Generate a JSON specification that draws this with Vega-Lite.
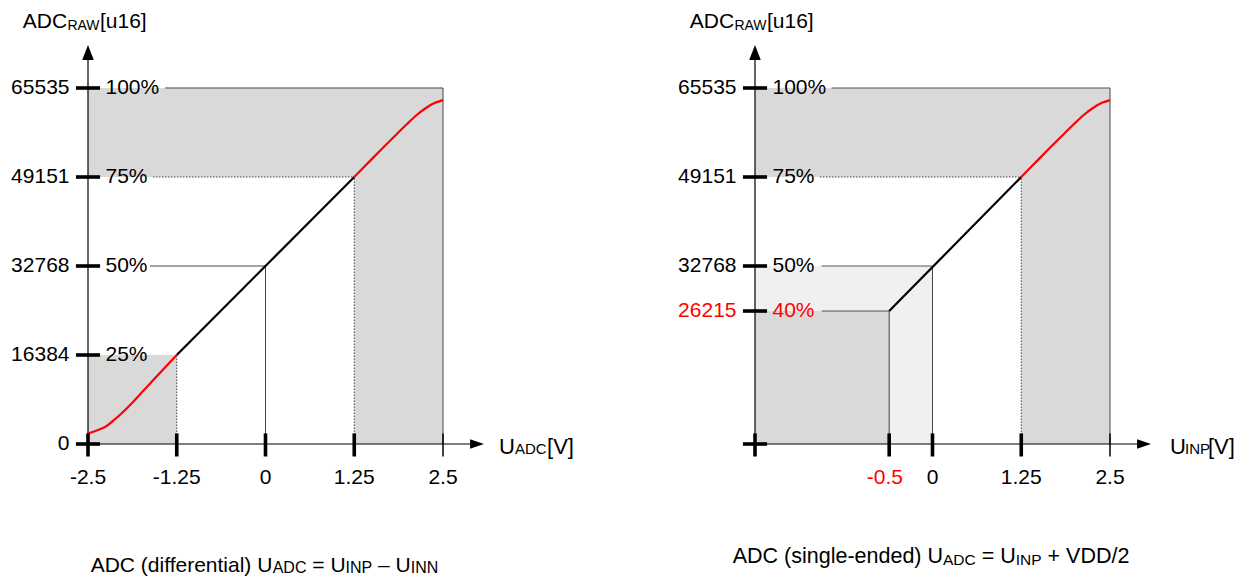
{
  "$schema": "https://vega.github.io/schema/vega-lite/v6.json",
  "padding": 0,
  "background": "white",
  "config": {"view": {"stroke": null}, "font": "Liberation Sans"},
  "data": {"values": [
    {"panel":"L","kind":"region","shade":"dark","x":-2.5,"x2":2.5,"y":49151,"y2":65535},
    {"panel":"L","kind":"region","shade":"dark","x":1.25,"x2":2.5,"y":0,"y2":49151},
    {"panel":"L","kind":"region","shade":"dark","x":-2.5,"x2":-1.25,"y":0,"y2":16384},
    {"panel":"R","kind":"region","shade":"light","x":-2.5,"x2":0,"y":0,"y2":32768},
    {"panel":"R","kind":"region","shade":"dark","x":-2.5,"x2":-0.61,"y":0,"y2":24480},
    {"panel":"R","kind":"region","shade":"dark","x":-2.5,"x2":2.5,"y":49151,"y2":65535},
    {"panel":"R","kind":"region","shade":"dark","x":1.25,"x2":2.5,"y":0,"y2":49151},

    {"panel":"L","kind":"guide","style":"solid","x":-1.415,"x2":2.5,"y":65535,"y2":65535},
    {"panel":"L","kind":"guide","style":"solid","x":2.5,"x2":2.5,"y":0,"y2":65535},
    {"panel":"L","kind":"guide","style":"dotted","x":-1.585,"x2":1.25,"y":49151,"y2":49151},
    {"panel":"L","kind":"guide","style":"dotted","x":1.25,"x2":1.25,"y":0,"y2":49151},
    {"panel":"L","kind":"guide","style":"solid","x":-1.627,"x2":0,"y":32768,"y2":32768},
    {"panel":"L","kind":"guide","style":"solid","x":0,"x2":0,"y":0,"y2":32768},
    {"panel":"L","kind":"guide","style":"dotted","x":-1.25,"x2":-1.25,"y":0,"y2":16384},
    {"panel":"R","kind":"guide","style":"solid","x":-1.42,"x2":2.5,"y":65535,"y2":65535},
    {"panel":"R","kind":"guide","style":"solid","x":2.5,"x2":2.5,"y":0,"y2":65535},
    {"panel":"R","kind":"guide","style":"dotted","x":-1.585,"x2":1.25,"y":49151,"y2":49151},
    {"panel":"R","kind":"guide","style":"dotted","x":1.25,"x2":1.25,"y":0,"y2":49151},
    {"panel":"R","kind":"guide","style":"solid","x":-1.56,"x2":0,"y":32768,"y2":32768},
    {"panel":"R","kind":"guide","style":"solid","x":0,"x2":0,"y":0,"y2":32768},
    {"panel":"R","kind":"guide","style":"solid","x":-1.56,"x2":-0.61,"y":24480,"y2":24480},
    {"panel":"R","kind":"guide","style":"solid","x":-0.61,"x2":-0.61,"y":0,"y2":24480},

    {"panel":"L","kind":"transfer","x":-1.25,"x2":1.25,"y":16384,"y2":49151},
    {"panel":"R","kind":"transfer","x":-0.61,"x2":1.25,"y":24480,"y2":49151},

    {"panel":"L","kind":"curve","seg":"lo","x":-2.5,"y":1970},
    {"panel":"L","kind":"curve","seg":"lo","x":-2.425,"y":2264},
    {"panel":"L","kind":"curve","seg":"lo","x":-2.331,"y":2706},
    {"panel":"L","kind":"curve","seg":"lo","x":-2.237,"y":3314},
    {"panel":"L","kind":"curve","seg":"lo","x":-2.144,"y":4289},
    {"panel":"L","kind":"curve","seg":"lo","x":-2.003,"y":5946},
    {"panel":"L","kind":"curve","seg":"lo","x":-1.862,"y":7787},
    {"panel":"L","kind":"curve","seg":"lo","x":-1.721,"y":9812},
    {"panel":"L","kind":"curve","seg":"lo","x":-1.58,"y":11782},
    {"panel":"L","kind":"curve","seg":"lo","x":-1.25,"y":16384},
    {"panel":"L","kind":"curve","seg":"hi","x":1.25,"y":49151},
    {"panel":"L","kind":"curve","seg":"hi","x":1.425,"y":51480},
    {"panel":"L","kind":"curve","seg":"hi","x":1.613,"y":53990},
    {"panel":"L","kind":"curve","seg":"hi","x":1.8,"y":56420},
    {"panel":"L","kind":"curve","seg":"hi","x":1.989,"y":58850},
    {"panel":"L","kind":"curve","seg":"hi","x":2.13,"y":60560},
    {"panel":"L","kind":"curve","seg":"hi","x":2.27,"y":61950},
    {"panel":"L","kind":"curve","seg":"hi","x":2.387,"y":62800},
    {"panel":"L","kind":"curve","seg":"hi","x":2.5,"y":63300},
    {"panel":"R","kind":"curve","seg":"hi","x":1.25,"y":49151},
    {"panel":"R","kind":"curve","seg":"hi","x":1.425,"y":51480},
    {"panel":"R","kind":"curve","seg":"hi","x":1.613,"y":53990},
    {"panel":"R","kind":"curve","seg":"hi","x":1.8,"y":56420},
    {"panel":"R","kind":"curve","seg":"hi","x":1.989,"y":58850},
    {"panel":"R","kind":"curve","seg":"hi","x":2.13,"y":60560},
    {"panel":"R","kind":"curve","seg":"hi","x":2.27,"y":61950},
    {"panel":"R","kind":"curve","seg":"hi","x":2.387,"y":62800},
    {"panel":"R","kind":"curve","seg":"hi","x":2.5,"y":63300},

    {"panel":"L","kind":"axis","x":-2.5,"x2":2.88,"y":0,"y2":0},
    {"panel":"L","kind":"axis","x":-2.5,"x2":-2.5,"y":0,"y2":70690},
    {"panel":"R","kind":"axis","x":-2.5,"x2":2.88,"y":0,"y2":0},
    {"panel":"R","kind":"axis","x":-2.5,"x2":-2.5,"y":0,"y2":70690},

    {"panel":"L","kind":"tick","weight":"major","x":-2.5,"x2":-2.5,"y":-2300,"y2":1950},
    {"panel":"L","kind":"tick","weight":"major","x":-1.25,"x2":-1.25,"y":-2300,"y2":1950},
    {"panel":"L","kind":"tick","weight":"major","x":0,"x2":0,"y":-2300,"y2":1950},
    {"panel":"L","kind":"tick","weight":"major","x":1.25,"x2":1.25,"y":-2300,"y2":1950},
    {"panel":"L","kind":"tick","weight":"minor","x":2.5,"x2":2.5,"y":-2300,"y2":1950},
    {"panel":"L","kind":"tick","weight":"major","x":-2.67,"x2":-2.33,"y":0,"y2":0},
    {"panel":"L","kind":"tick","weight":"major","x":-2.67,"x2":-2.33,"y":16384,"y2":16384},
    {"panel":"L","kind":"tick","weight":"major","x":-2.67,"x2":-2.33,"y":32768,"y2":32768},
    {"panel":"L","kind":"tick","weight":"major","x":-2.67,"x2":-2.33,"y":49151,"y2":49151},
    {"panel":"L","kind":"tick","weight":"major","x":-2.67,"x2":-2.33,"y":65535,"y2":65535},
    {"panel":"R","kind":"tick","weight":"major","x":-2.5,"x2":-2.5,"y":-2300,"y2":1950},
    {"panel":"R","kind":"tick","weight":"major","x":-0.61,"x2":-0.61,"y":-2300,"y2":1950},
    {"panel":"R","kind":"tick","weight":"major","x":0,"x2":0,"y":-2300,"y2":1950},
    {"panel":"R","kind":"tick","weight":"major","x":1.25,"x2":1.25,"y":-2300,"y2":1950},
    {"panel":"R","kind":"tick","weight":"minor","x":2.5,"x2":2.5,"y":-2300,"y2":1950},
    {"panel":"R","kind":"tick","weight":"major","x":-2.67,"x2":-2.33,"y":0,"y2":0},
    {"panel":"R","kind":"tick","weight":"major","x":-2.67,"x2":-2.33,"y":24480,"y2":24480},
    {"panel":"R","kind":"tick","weight":"major","x":-2.67,"x2":-2.33,"y":32768,"y2":32768},
    {"panel":"R","kind":"tick","weight":"major","x":-2.67,"x2":-2.33,"y":49151,"y2":49151},
    {"panel":"R","kind":"tick","weight":"major","x":-2.67,"x2":-2.33,"y":65535,"y2":65535},

    {"panel":"L","kind":"arrow","dir":"up","x":-2.5,"y":72070},
    {"panel":"L","kind":"arrow","dir":"right","x":2.979,"y":0},
    {"panel":"R","kind":"arrow","dir":"up","x":-2.5,"y":72070},
    {"panel":"R","kind":"arrow","dir":"right","x":2.979,"y":0},

    {"panel":"L","kind":"ylab","x":-2.7606,"y":65535,"text":"65535"},
    {"panel":"L","kind":"ylab","x":-2.7606,"y":49151,"text":"49151"},
    {"panel":"L","kind":"ylab","x":-2.7606,"y":32768,"text":"32768"},
    {"panel":"L","kind":"ylab","x":-2.7606,"y":16384,"text":"16384"},
    {"panel":"L","kind":"ylab","x":-2.7606,"y":0,"text":"0"},
    {"panel":"R","kind":"ylab","x":-2.7606,"y":65535,"text":"65535"},
    {"panel":"R","kind":"ylab","x":-2.7606,"y":49151,"text":"49151"},
    {"panel":"R","kind":"ylab","x":-2.7606,"y":32768,"text":"32768"},
    {"panel":"R","kind":"ylab","x":-2.7606,"y":24480,"text":"26215","tone":"accent"},

    {"panel":"L","kind":"pct","x":-2.2535,"y":65535,"text":"100%"},
    {"panel":"L","kind":"pct","x":-2.2535,"y":49151,"text":"75%"},
    {"panel":"L","kind":"pct","x":-2.2535,"y":32768,"text":"50%"},
    {"panel":"L","kind":"pct","x":-2.2535,"y":16384,"text":"25%"},
    {"panel":"R","kind":"pct","x":-2.2535,"y":65535,"text":"100%"},
    {"panel":"R","kind":"pct","x":-2.2535,"y":49151,"text":"75%"},
    {"panel":"R","kind":"pct","x":-2.2535,"y":32768,"text":"50%"},
    {"panel":"R","kind":"pct","x":-2.2535,"y":24480,"text":"40%","tone":"accent"},

    {"panel":"L","kind":"xlab","x":-2.5,"y":-7364,"text":"-2.5"},
    {"panel":"L","kind":"xlab","x":-1.25,"y":-7364,"text":"-1.25"},
    {"panel":"L","kind":"xlab","x":0,"y":-7364,"text":"0"},
    {"panel":"L","kind":"xlab","x":1.25,"y":-7364,"text":"1.25"},
    {"panel":"L","kind":"xlab","x":2.5,"y":-7364,"text":"2.5"},
    {"panel":"R","kind":"xlab","x":-0.67,"y":-7364,"text":"-0.5","tone":"accent"},
    {"panel":"R","kind":"xlab","x":0,"y":-7364,"text":"0"},
    {"panel":"R","kind":"xlab","x":1.25,"y":-7364,"text":"1.25"},
    {"panel":"R","kind":"xlab","x":2.5,"y":-7364,"text":"2.5"},

    {"panel":"L","kind":"title","x":-3.418,"y":76581,"text":"ADC"},
    {"panel":"L","kind":"title","x":-2.331,"y":76581,"text":"[u16]"},
    {"panel":"L","kind":"titlesub","x":-2.79,"y":76213,"text":"RAW"},
    {"panel":"R","kind":"title","x":-3.418,"y":76581,"text":"ADC"},
    {"panel":"R","kind":"title","x":-2.331,"y":76581,"text":"[u16]"},
    {"panel":"R","kind":"titlesub","x":-2.79,"y":76213,"text":"RAW"},

    {"panel":"L","kind":"axtitle","x":3.2887,"y":-1841,"text":"U"},
    {"panel":"L","kind":"axtitle","x":3.965,"y":-1841,"text":"[V]"},
    {"panel":"L","kind":"axsub","x":3.514,"y":-1841,"text":"ADC"},
    {"panel":"R","kind":"axtitle","x":3.345,"y":-1841,"text":"U"},
    {"panel":"R","kind":"axtitle","x":3.88,"y":-1841,"text":"[V]"},
    {"panel":"R","kind":"axsub","x":3.556,"y":-1841,"text":"INP"},

    {"panel":"L","kind":"cap","x":-2.462,"y":-23508,"text":"ADC (differential) U"},
    {"panel":"L","kind":"cap","x":0.659,"y":-23508,"text":"= U"},
    {"panel":"L","kind":"cap","x":1.586,"y":-23508,"text":"– U"},
    {"panel":"L","kind":"capsub","x":0.1014,"y":-23750,"text":"ADC"},
    {"panel":"L","kind":"capsub","x":1.128,"y":-23750,"text":"INP"},
    {"panel":"L","kind":"capsub","x":2.046,"y":-23750,"text":"INN"},
    {"panel":"R","kind":"cap","x":-2.814,"y":-21962,"text":"ADC (single-ended) U"},
    {"panel":"R","kind":"cap","x":0.693,"y":-21962,"text":"= U"},
    {"panel":"R","kind":"cap","x":1.621,"y":-21962,"text":"+ VDD/2"},
    {"panel":"R","kind":"capsub","x":0.148,"y":-22200,"text":"ADC"},
    {"panel":"R","kind":"capsub","x":1.173,"y":-22200,"text":"INP"}
  ]},
  "facet": {"column": {"field": "panel", "type": "nominal", "sort": ["L", "R"], "header": {"title": null, "labels": false, "labelPadding": 0, "titlePadding": 0}}},
  "spacing": 90,
  "spec": {
    "width": 577,
    "height": 581,
    "layer": [
      {
        "transform": [{"filter": "datum.kind === 'region' && datum.shade === 'light'"}],
        "mark": {"type": "rect", "color": "#f0f0f0"},
        "encoding": {
          "x": {"field": "x", "type": "quantitative", "scale": {"domain": [-3.73944, 4.38732], "nice": false, "zero": false}, "axis": null},
          "x2": {"field": "x2"},
          "y": {"field": "y", "type": "quantitative", "scale": {"domain": [-25219.9, 81734.6], "nice": false, "zero": false}, "axis": null},
          "y2": {"field": "y2"}
        }
      },
      {
        "transform": [{"filter": "datum.kind === 'region' && datum.shade === 'dark'"}],
        "mark": {"type": "rect", "color": "#d9d9d9"},
        "encoding": {
          "x": {"field": "x", "type": "quantitative", "scale": {"domain": [-3.73944, 4.38732], "nice": false, "zero": false}, "axis": null},
          "x2": {"field": "x2"},
          "y": {"field": "y", "type": "quantitative", "scale": {"domain": [-25219.9, 81734.6], "nice": false, "zero": false}, "axis": null},
          "y2": {"field": "y2"}
        }
      },
      {
        "transform": [{"filter": "datum.kind === 'guide'"}],
        "mark": {"type": "rule", "color": "#444444", "strokeWidth": 1},
        "encoding": {
          "x": {"field": "x", "type": "quantitative", "scale": {"domain": [-3.73944, 4.38732], "nice": false, "zero": false}, "axis": null},
          "x2": {"field": "x2"},
          "y": {"field": "y", "type": "quantitative", "scale": {"domain": [-25219.9, 81734.6], "nice": false, "zero": false}, "axis": null},
          "y2": {"field": "y2"},
          "strokeDash": {"field": "style", "type": "nominal", "scale": {"domain": ["solid", "dotted"], "range": [[1, 0], [1.5, 1.5]]}, "legend": null}
        }
      },
      {
        "transform": [{"filter": "datum.kind === 'axis'"}],
        "mark": {"type": "rule", "color": "#000000", "strokeWidth": 1.2},
        "encoding": {
          "x": {"field": "x", "type": "quantitative", "scale": {"domain": [-3.73944, 4.38732], "nice": false, "zero": false}, "axis": null},
          "x2": {"field": "x2"},
          "y": {"field": "y", "type": "quantitative", "scale": {"domain": [-25219.9, 81734.6], "nice": false, "zero": false}, "axis": null},
          "y2": {"field": "y2"}
        }
      },
      {
        "transform": [{"filter": "datum.kind === 'transfer'"}],
        "mark": {"type": "rule", "color": "#000000", "strokeWidth": 2.2},
        "encoding": {
          "x": {"field": "x", "type": "quantitative", "scale": {"domain": [-3.73944, 4.38732], "nice": false, "zero": false}, "axis": null},
          "x2": {"field": "x2"},
          "y": {"field": "y", "type": "quantitative", "scale": {"domain": [-25219.9, 81734.6], "nice": false, "zero": false}, "axis": null},
          "y2": {"field": "y2"}
        }
      },
      {
        "transform": [{"filter": "datum.kind === 'curve'"}],
        "mark": {"type": "line", "color": "#ff0000", "strokeWidth": 2.2, "interpolate": "monotone"},
        "encoding": {
          "x": {"field": "x", "type": "quantitative", "scale": {"domain": [-3.73944, 4.38732], "nice": false, "zero": false}, "axis": null},
          "y": {"field": "y", "type": "quantitative", "scale": {"domain": [-25219.9, 81734.6], "nice": false, "zero": false}, "axis": null},
          "detail": {"field": "seg", "type": "nominal"}
        }
      },
      {
        "transform": [{"filter": "datum.kind === 'tick'"}],
        "mark": {"type": "rule", "color": "#000000"},
        "encoding": {
          "x": {"field": "x", "type": "quantitative", "scale": {"domain": [-3.73944, 4.38732], "nice": false, "zero": false}, "axis": null},
          "x2": {"field": "x2"},
          "y": {"field": "y", "type": "quantitative", "scale": {"domain": [-25219.9, 81734.6], "nice": false, "zero": false}, "axis": null},
          "y2": {"field": "y2"},
          "strokeWidth": {"field": "weight", "type": "nominal", "scale": {"domain": ["major", "minor"], "range": [3.6, 1.5]}, "legend": null}
        }
      },
      {
        "transform": [{"filter": "datum.kind === 'arrow'"}],
        "mark": {"type": "point", "filled": true, "color": "#000000", "opacity": 1, "size": 225, "strokeWidth": 0},
        "encoding": {
          "x": {"field": "x", "type": "quantitative", "scale": {"domain": [-3.73944, 4.38732], "nice": false, "zero": false}, "axis": null},
          "y": {"field": "y", "type": "quantitative", "scale": {"domain": [-25219.9, 81734.6], "nice": false, "zero": false}, "axis": null},
          "shape": {"field": "dir", "type": "nominal", "scale": {"domain": ["up", "right"], "range": ["M0,-1L0.77,1L-0.77,1Z", "M0.93,0L-0.93,0.63L-0.93,-0.63Z"]}, "legend": null}
        }
      },
      {
        "transform": [{"filter": "datum.kind === 'ylab'"}],
        "mark": {"type": "text", "align": "right", "baseline": "middle", "fontSize": 21},
        "encoding": {
          "x": {"field": "x", "type": "quantitative", "scale": {"domain": [-3.73944, 4.38732], "nice": false, "zero": false}, "axis": null},
          "y": {"field": "y", "type": "quantitative", "scale": {"domain": [-25219.9, 81734.6], "nice": false, "zero": false}, "axis": null},
          "text": {"field": "text"},
          "color": {"condition": {"test": "datum.tone === 'accent'", "value": "#ff0000"}, "value": "#000000"}
        }
      },
      {
        "transform": [{"filter": "datum.kind === 'pct'"}],
        "mark": {"type": "text", "align": "left", "baseline": "middle", "fontSize": 21},
        "encoding": {
          "x": {"field": "x", "type": "quantitative", "scale": {"domain": [-3.73944, 4.38732], "nice": false, "zero": false}, "axis": null},
          "y": {"field": "y", "type": "quantitative", "scale": {"domain": [-25219.9, 81734.6], "nice": false, "zero": false}, "axis": null},
          "text": {"field": "text"},
          "color": {"condition": {"test": "datum.tone === 'accent'", "value": "#ff0000"}, "value": "#000000"}
        }
      },
      {
        "transform": [{"filter": "datum.kind === 'xlab'"}],
        "mark": {"type": "text", "align": "center", "baseline": "alphabetic", "fontSize": 21},
        "encoding": {
          "x": {"field": "x", "type": "quantitative", "scale": {"domain": [-3.73944, 4.38732], "nice": false, "zero": false}, "axis": null},
          "y": {"field": "y", "type": "quantitative", "scale": {"domain": [-25219.9, 81734.6], "nice": false, "zero": false}, "axis": null},
          "text": {"field": "text"},
          "color": {"condition": {"test": "datum.tone === 'accent'", "value": "#ff0000"}, "value": "#000000"}
        }
      },
      {
        "transform": [{"filter": "datum.kind === 'title'"}],
        "mark": {"type": "text", "align": "left", "baseline": "alphabetic", "fontSize": 21, "color": "#000000"},
        "encoding": {
          "x": {"field": "x", "type": "quantitative", "scale": {"domain": [-3.73944, 4.38732], "nice": false, "zero": false}, "axis": null},
          "y": {"field": "y", "type": "quantitative", "scale": {"domain": [-25219.9, 81734.6], "nice": false, "zero": false}, "axis": null},
          "text": {"field": "text"}
        }
      },
      {
        "transform": [{"filter": "datum.kind === 'titlesub'"}],
        "mark": {"type": "text", "align": "left", "baseline": "alphabetic", "fontSize": 14, "color": "#000000"},
        "encoding": {
          "x": {"field": "x", "type": "quantitative", "scale": {"domain": [-3.73944, 4.38732], "nice": false, "zero": false}, "axis": null},
          "y": {"field": "y", "type": "quantitative", "scale": {"domain": [-25219.9, 81734.6], "nice": false, "zero": false}, "axis": null},
          "text": {"field": "text"}
        }
      },
      {
        "transform": [{"filter": "datum.kind === 'axtitle'"}],
        "mark": {"type": "text", "align": "left", "baseline": "alphabetic", "fontSize": 22, "color": "#000000"},
        "encoding": {
          "x": {"field": "x", "type": "quantitative", "scale": {"domain": [-3.73944, 4.38732], "nice": false, "zero": false}, "axis": null},
          "y": {"field": "y", "type": "quantitative", "scale": {"domain": [-25219.9, 81734.6], "nice": false, "zero": false}, "axis": null},
          "text": {"field": "text"}
        }
      },
      {
        "transform": [{"filter": "datum.kind === 'axsub'"}],
        "mark": {"type": "text", "align": "left", "baseline": "alphabetic", "fontSize": 15, "color": "#000000"},
        "encoding": {
          "x": {"field": "x", "type": "quantitative", "scale": {"domain": [-3.73944, 4.38732], "nice": false, "zero": false}, "axis": null},
          "y": {"field": "y", "type": "quantitative", "scale": {"domain": [-25219.9, 81734.6], "nice": false, "zero": false}, "axis": null},
          "text": {"field": "text"}
        }
      },
      {
        "transform": [{"filter": "datum.kind === 'cap' && datum.panel === 'L'"}],
        "mark": {"type": "text", "align": "left", "baseline": "alphabetic", "fontSize": 21, "color": "#000000"},
        "encoding": {
          "x": {"field": "x", "type": "quantitative", "scale": {"domain": [-3.73944, 4.38732], "nice": false, "zero": false}, "axis": null},
          "y": {"field": "y", "type": "quantitative", "scale": {"domain": [-25219.9, 81734.6], "nice": false, "zero": false}, "axis": null},
          "text": {"field": "text"}
        }
      },
      {
        "transform": [{"filter": "datum.kind === 'capsub' && datum.panel === 'L'"}],
        "mark": {"type": "text", "align": "left", "baseline": "alphabetic", "fontSize": 16, "color": "#000000"},
        "encoding": {
          "x": {"field": "x", "type": "quantitative", "scale": {"domain": [-3.73944, 4.38732], "nice": false, "zero": false}, "axis": null},
          "y": {"field": "y", "type": "quantitative", "scale": {"domain": [-25219.9, 81734.6], "nice": false, "zero": false}, "axis": null},
          "text": {"field": "text"}
        }
      },
      {
        "transform": [{"filter": "datum.kind === 'cap' && datum.panel === 'R'"}],
        "mark": {"type": "text", "align": "left", "baseline": "alphabetic", "fontSize": 21.5, "color": "#000000"},
        "encoding": {
          "x": {"field": "x", "type": "quantitative", "scale": {"domain": [-3.73944, 4.38732], "nice": false, "zero": false}, "axis": null},
          "y": {"field": "y", "type": "quantitative", "scale": {"domain": [-25219.9, 81734.6], "nice": false, "zero": false}, "axis": null},
          "text": {"field": "text"}
        }
      },
      {
        "transform": [{"filter": "datum.kind === 'capsub' && datum.panel === 'R'"}],
        "mark": {"type": "text", "align": "left", "baseline": "alphabetic", "fontSize": 15.5, "color": "#000000"},
        "encoding": {
          "x": {"field": "x", "type": "quantitative", "scale": {"domain": [-3.73944, 4.38732], "nice": false, "zero": false}, "axis": null},
          "y": {"field": "y", "type": "quantitative", "scale": {"domain": [-25219.9, 81734.6], "nice": false, "zero": false}, "axis": null},
          "text": {"field": "text"}
        }
      }
    ]
  }
}
